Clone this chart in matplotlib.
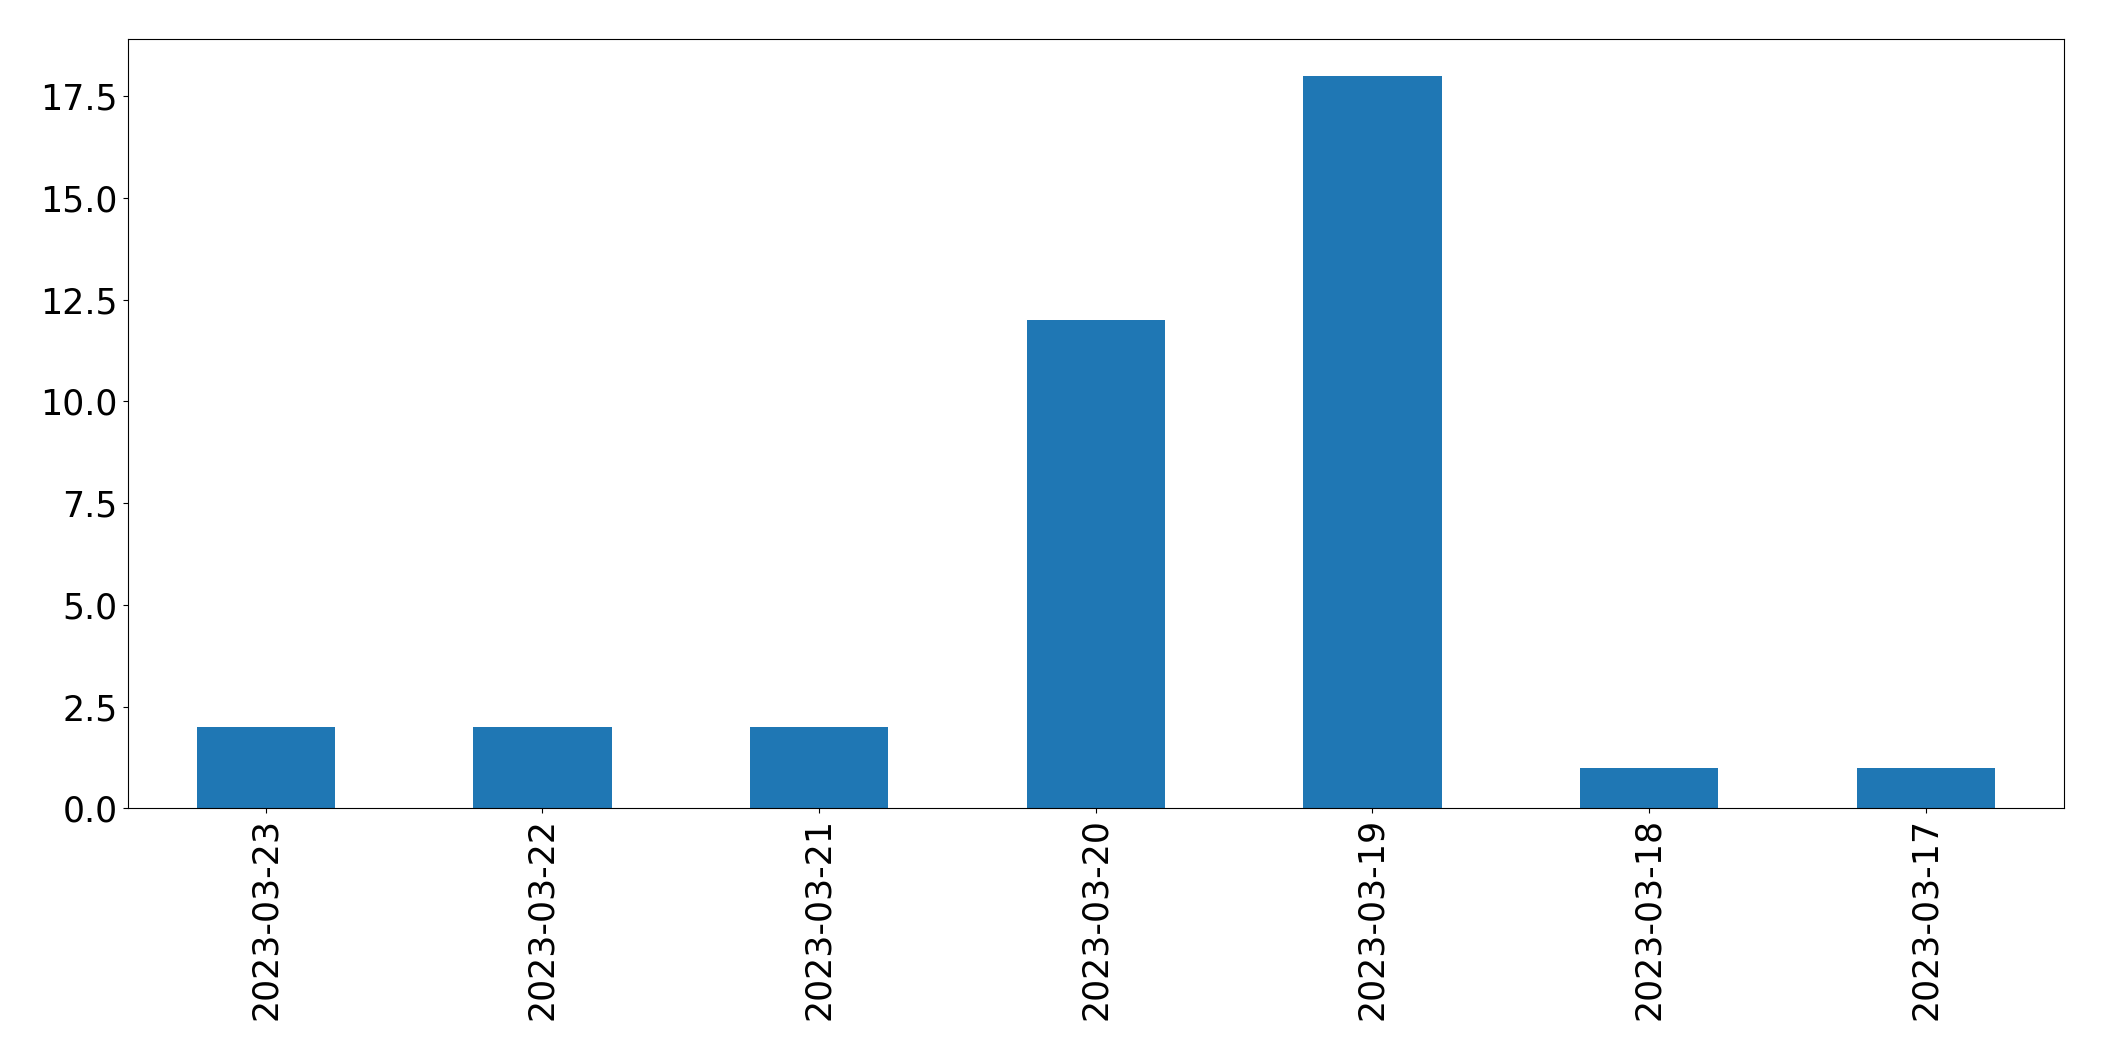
import numpy as np
import matplotlib
matplotlib.use("Agg")
import matplotlib.pyplot as plt

# Data
dates = ["2023-03-23", "2023-03-22", "2023-03-21", "2023-03-20",
         "2023-03-19", "2023-03-18", "2023-03-17"]
counts = [2, 2, 2, 12, 18, 1, 1]

plt.rcParams["font.size"] = 25

fig = plt.figure(figsize=(21.04, 10.61), dpi=100)
ax = fig.add_axes([0.0606, 0.238, 0.9204, 0.725])

x = np.arange(len(dates))
ax.bar(x, counts, width=0.5, color="#1f77b4")
ax.set_xticks(x)
ax.set_xticklabels(dates, rotation=90)
ax.set_xlim(-0.5, len(dates) - 0.5)
ax.set_ylim(0, max(counts) * 1.05)
ax.set_yticks(np.arange(0, 18, 2.5))
ax.yaxis.set_major_formatter(matplotlib.ticker.FormatStrFormatter("%.1f"))

fig.savefig("out.png", dpi=100)
